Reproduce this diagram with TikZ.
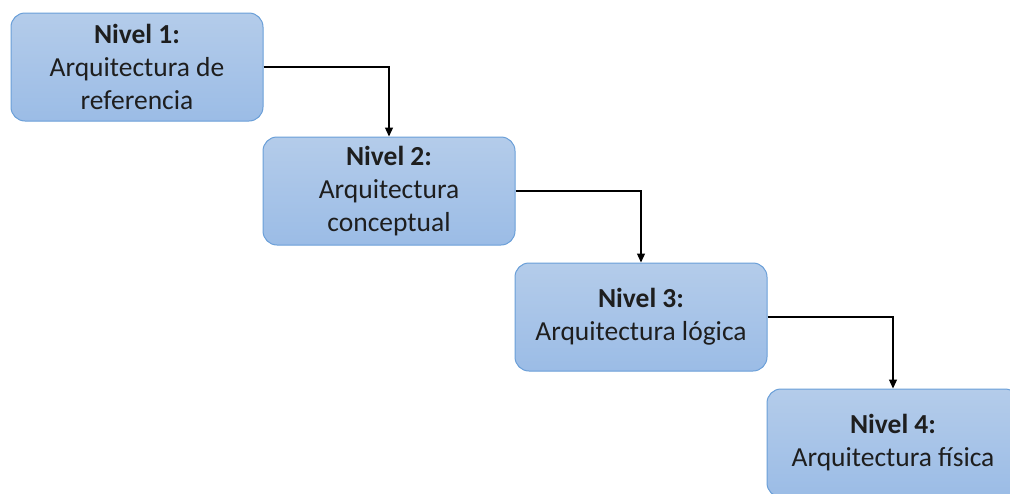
\documentclass[tikz,border=0pt]{standalone}
\usepackage{fontspec}
\setmainfont{Carlito}
\usetikzlibrary{arrows.meta}
\definecolor{boxtop}{HTML}{B4CCEA}
\definecolor{boxbot}{HTML}{9BBCE6}
\definecolor{boxline}{HTML}{6A9FD8}
\definecolor{txt}{HTML}{1E1E1E}
\tikzset{
  level/.style={draw=boxline, line width=1pt, rounded corners=14pt,
    top color=boxtop, bottom color=boxbot,
    minimum width=252pt, minimum height=108pt, align=center,
    text=txt, font=\fontsize{27.5}{33}\selectfont, inner sep=0pt},
  link/.style={draw=black, line width=1.3pt, -{Triangle[length=9pt,width=8pt]}}
}
\begin{document}
\begin{tikzpicture}[x=1pt,y=-1pt]
  \useasboundingbox (0,0) rectangle (1010,493);
  \node[level] (n1) at (137,67) {\textbf{Nivel 1:}\\Arquitectura de\\referencia};
  \node[level] (n2) at (389,191) {\textbf{Nivel 2:}\\Arquitectura\\conceptual};
  \node[level] (n3) at (641,317) {\textbf{Nivel 3:}\\Arquitectura lógica};
  \node[level] (n4) at (893,443) {\textbf{Nivel 4:}\\Arquitectura física};
  \draw[link] (n1.east) -| (n2.north);
  \draw[link] (n2.east) -| (n3.north);
  \draw[link] (n3.east) -| (n4.north);
\end{tikzpicture}
\end{document}
